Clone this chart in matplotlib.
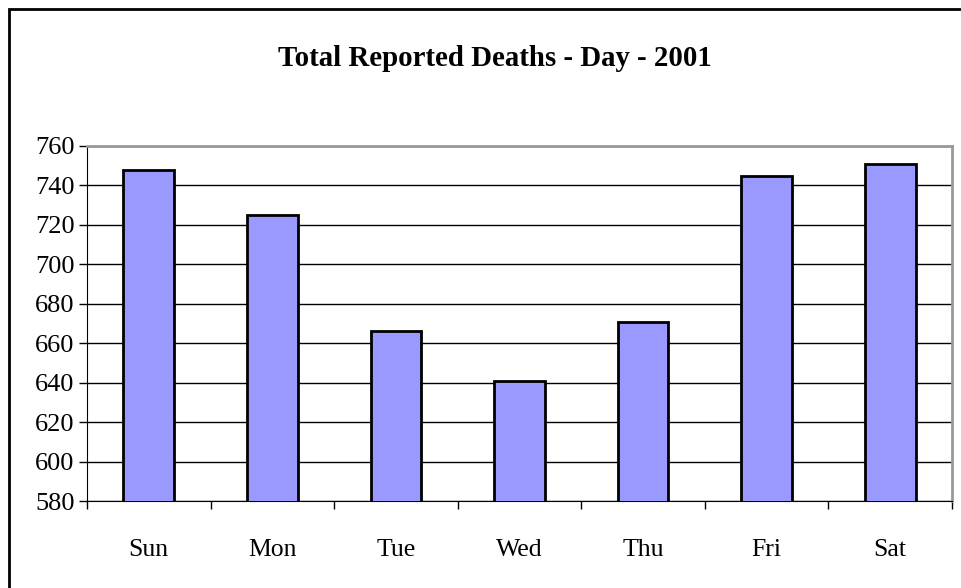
import numpy as np
import matplotlib.pyplot as plt
from matplotlib.patches import Rectangle

days = ['Sun', 'Mon', 'Tue', 'Wed', 'Thu', 'Fri', 'Sat']
deaths = [748, 725, 666, 641, 671, 745, 751]
yticks = np.arange(580, 761, 20)

plt.rcParams['font.family'] = ['Liberation Serif', 'DejaVu Serif']

fig = plt.figure(figsize=(9.61, 5.88), dpi=100)
ax = fig.add_axes([87/961, 1 - 501/588, (952-87)/961, (501-146)/588])

x = np.arange(len(days))
ax.bar(x, deaths, width=0.41, color='#9999ff', edgecolor='black', linewidth=2, zorder=3)

ax.set_xlim(-0.5, len(days) - 0.5)
ax.set_ylim(580, 760)
ax.set_yticks(yticks)
ax.tick_params(axis='y', labelsize=19, direction='out', length=6, width=1, pad=3)
ax.grid(axis='y', color='black', linewidth=1, zorder=0)

# category ticks sit between the labels
ax.set_xticks(np.arange(-0.5, len(days), 1))
ax.set_xticklabels([])
ax.set_xticks(x, minor=True)
ax.set_xticklabels(days, minor=True, fontsize=18.5)
ax.tick_params(axis='x', which='major', direction='out', length=6, width=1)
ax.tick_params(axis='x', which='minor', length=0, pad=27)

for side in ['top', 'right']:
    ax.spines[side].set_color('#999999')
    ax.spines[side].set_linewidth(2)
for side in ['left', 'bottom']:
    ax.spines[side].set_color('black')

fig.text(495/961, 1 - 59/588, 'Total Reported Deaths - Day - 2001',
         ha='center', va='center', fontsize=20.8, fontweight='bold')

# outer chart border (cut off on the right and bottom)
fig.patches.append(Rectangle((9/961, -0.1), 1.1, 1 - 9/588 + 0.1, transform=fig.transFigure,
                             fill=False, edgecolor='black', linewidth=2))

fig.savefig('out.png', dpi=100)
